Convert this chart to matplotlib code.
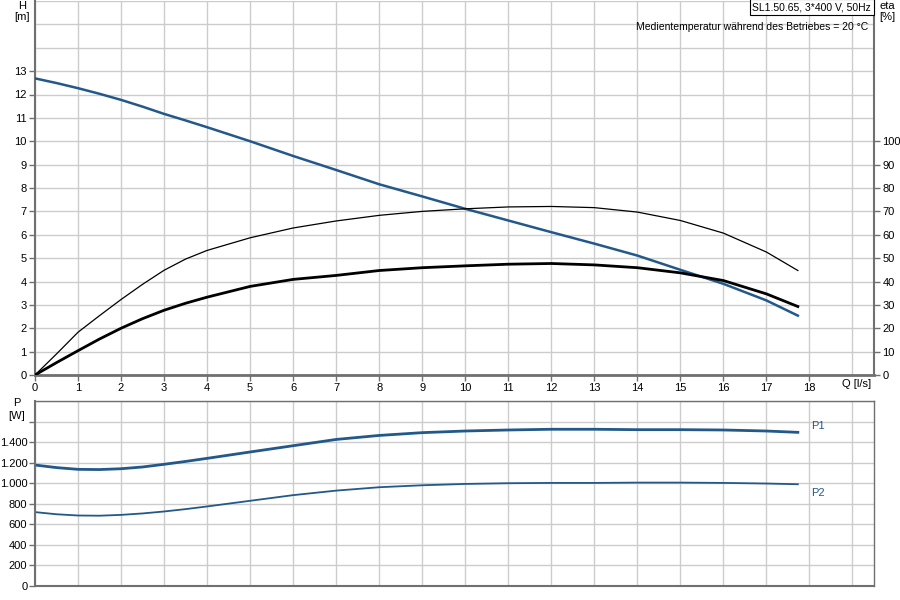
import numpy as np
import matplotlib.pyplot as plt

plt.rcParams['font.family'] = ['Liberation Sans', 'DejaVu Sans']
plt.rcParams['font.size'] = 7.5

# flow [l/s]
q = [0, 0.5, 1, 1.5, 2, 2.5, 3, 3.5, 4, 5, 6, 7, 8, 9, 10, 11, 12, 13, 14, 15, 16, 17, 17.73]
# head [m]
h = [12.69, 12.49, 12.27, 12.03, 11.77, 11.48, 11.17, 10.89, 10.6, 10.0, 9.37, 8.77, 8.16,
     7.64, 7.11, 6.61, 6.11, 5.62, 5.11, 4.5, 3.9, 3.19, 2.54]
# efficiency [%] (thin = pump, thick = total)
eta_pump = [0, 9.0, 18.3, 25.4, 32.3, 38.8, 44.8, 49.6, 53.3, 58.7, 62.9, 65.9, 68.3,
            70.0, 71.1, 71.9, 72.1, 71.6, 69.7, 66.1, 60.7, 52.6, 44.7]
eta_tot = [0, 5.3, 10.4, 15.4, 20.0, 24.1, 27.7, 30.7, 33.3, 37.9, 40.9, 42.6, 44.7,
           45.9, 46.7, 47.4, 47.7, 47.1, 45.9, 43.7, 40.4, 34.7, 29.3]
# power [W]
p1 = [1177, 1152, 1135, 1133, 1141, 1158, 1184, 1212, 1242, 1304, 1365, 1426, 1465,
      1492, 1508, 1518, 1525, 1525, 1521, 1521, 1518, 1508, 1495]
p2 = [719, 698, 686, 684, 692, 706, 725, 748, 774, 829, 884, 928, 961,
      980, 993, 1000, 1003, 1003, 1006, 1006, 1003, 997, 990]

blue = '#22588a'
grid_c = '#cccccc'
spine_c = '#707070'
tick_fs = 8.0

fig = plt.figure(figsize=(9, 6), dpi=100)
ax = fig.add_axes([35/900, 1 - 375/600, (874 - 35)/900, 374/600])
axp = fig.add_axes([35/900, 1 - 586/600, (874 - 35)/900, 185/600])

for a in (ax, axp):
    a.set_xlim(0, 19.5)
    a.set_xticks(range(0, 19))
    a.set_xticks([19], minor=True)
    a.grid(True, which='both', color=grid_c, linewidth=1)
    a.set_axisbelow(True)
    a.tick_params(direction='out', length=4, width=1, color=spine_c, pad=2, labelsize=tick_fs)
    a.tick_params(which='minor', length=0)
    for s in a.spines.values():
        s.set_color(spine_c)
        s.set_linewidth(1)

# upper panel
ax.set_ylim(0, 16)
ax.set_yticks(range(0, 14))
ax.set_yticks([14, 15, 16], minor=True)
ax.tick_params(which='minor', length=0)
ax.spines['top'].set_visible(False)
ax.spines['bottom'].set_linewidth(2)
ax.spines['left'].set_linewidth(1.5)
ax.spines['right'].set_linewidth(1.5)

ax2 = ax.twinx()
ax2.set_ylim(0, 160)
ax2.set_yticks(range(0, 101, 10))
ax2.tick_params(direction='out', length=4, width=1, color=spine_c, pad=2, labelsize=tick_fs)
for s in ax2.spines.values():
    s.set_visible(False)

ax2.plot(q, eta_pump, color='black', linewidth=0.9)
ax2.plot(q, eta_tot, color='black', linewidth=2.0)
ax.plot(q, h, color=blue, linewidth=1.8, zorder=5)

fig.text(22/900, 1 - 6/600, 'H', ha='center', va='center', fontsize=tick_fs)
fig.text(22/900, 1 - 17/600, '[m]', ha='center', va='center', fontsize=tick_fs)
fig.text(887/900, 1 - 6/600, 'eta', ha='center', va='center', fontsize=tick_fs)
fig.text(887/900, 1 - 17/600, '[%]', ha='center', va='center', fontsize=tick_fs)
fig.text(857/900, 1 - 384/600, 'Q [l/s]', ha='center', va='center', fontsize=tick_fs)
fig.text(871/900, 1 - 7/600, 'SL1.50.65, 3*400 V, 50Hz', ha='right', va='center',
         bbox=dict(boxstyle='square,pad=0.25', facecolor='white', edgecolor='black', linewidth=0.8))
fig.text(868/900, 1 - 27/600, 'Medientemperatur während des Betriebes = 20 °C',
         ha='right', va='center')

# lower panel
axp.set_ylim(0, 1800)
axp.set_yticks(range(0, 1601, 200))
axp.set_yticks([1800], minor=True)
axp.tick_params(which='minor', length=0)
axp.tick_params(axis='y', pad=1.5)
axp.set_yticklabels(['0', '200', '400', '600', '800', '1.000', '1.200', '1.400', ''])
axp.set_xticklabels([])
axp.tick_params(axis='x', length=0)
axp.spines['left'].set_linewidth(1.5)
axp.spines['bottom'].set_linewidth(1.5)

axp.plot(q, p1, color=blue, linewidth=2.0)
axp.plot(q, p2, color=blue, linewidth=1.3)
axp.text(18.05, 1560, 'P1', color=blue, ha='left', va='center', fontsize=tick_fs)
axp.text(18.05, 905, 'P2', color=blue, ha='left', va='center', fontsize=tick_fs)

fig.text(17/900, 1 - 403/600, 'P', ha='center', va='center', fontsize=tick_fs)
fig.text(17/900, 1 - 416/600, '[W]', ha='center', va='center', fontsize=tick_fs)

fig.savefig('out.png', dpi=100)
